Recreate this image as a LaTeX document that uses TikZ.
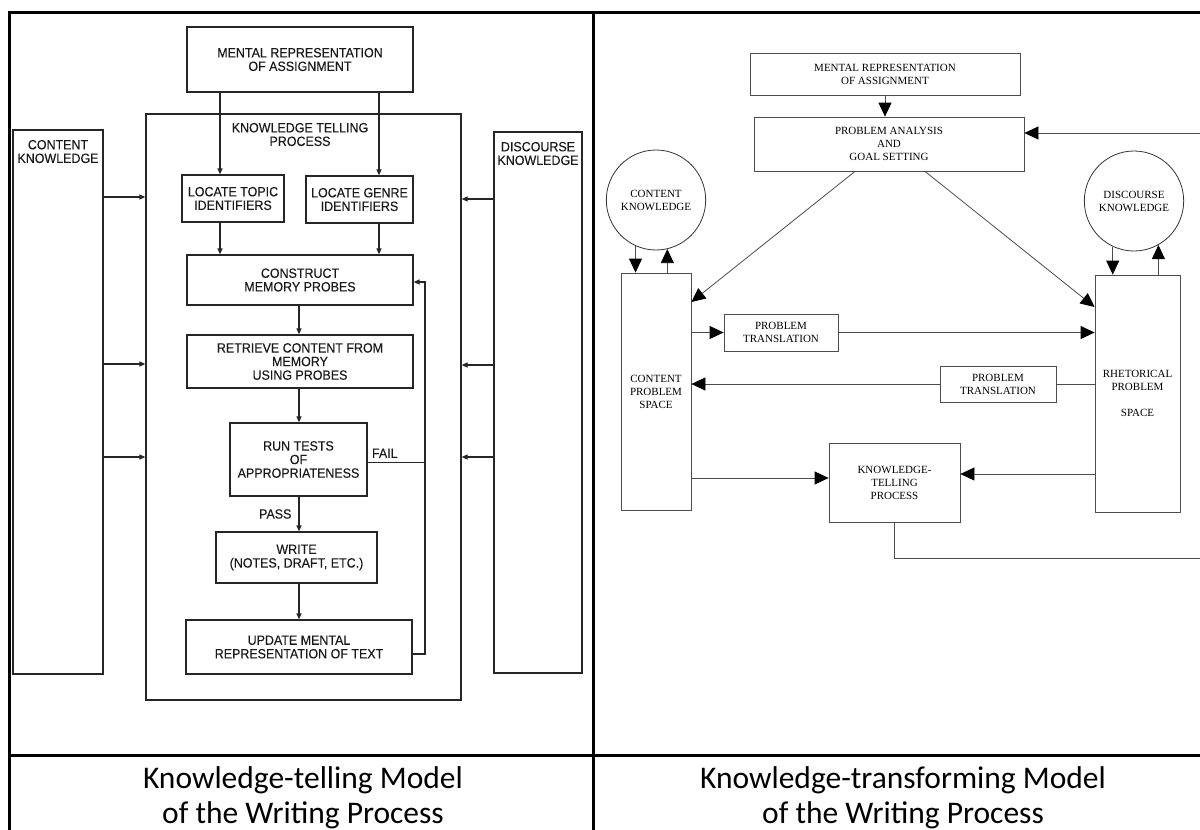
\documentclass[tikz,border=0pt]{standalone}
\usepackage{fontspec}
\setmainfont{Liberation Serif}
\newfontfamily\kfsans[FakeStretch=0.93,FakeBold=0.25]{Liberation Sans}
\newfontfamily\kfcap{Carlito}
\usetikzlibrary{arrows.meta,shapes.geometric}

\begin{document}
\begin{tikzpicture}[x=1pt,y=-1pt,
  rule/.style={line width=3pt,black},
  % knowledge-telling panel
  lfont/.style={font=\kfsans\fontsize{13.4}{13.6}\selectfont},
  lbox/.style={draw=black!85, line width=1.2pt, inner sep=0pt, align=center,
    lfont, text=black!90},
  ltext/.style={inner sep=0pt, align=center, lfont, text=black!90},
  larr/.style={draw=black!85, line width=1.2pt, -{Triangle[length=6pt,width=5pt]}},
  lline/.style={draw=black!85, line width=1.2pt},
  % knowledge-transforming panel
  rbox/.style={draw=black!70, line width=0.8pt, inner sep=0pt, align=center,
    font=\fontsize{11}{13}\selectfont},
  rcirc/.style={rbox, ellipse, draw=black!80},
  rarr/.style={draw=black!70, line width=0.8pt, -{Triangle[length=14pt,width=13pt,color=black]}},
  rline/.style={draw=black!70, line width=0.8pt},
  caption/.style={anchor=base, inner sep=0pt, font=\kfcap\fontsize{31.5}{36}\selectfont},
  wh/.style 2 args={minimum width=#1pt, minimum height=#2pt}
]
\useasboundingbox (0,0) rectangle (1200,830);

% ---------- table frame ----------
\draw[rule] (9,832) -- (9,12) -- (1210,12);
\draw[rule] (593,12) -- (593,832);
\draw[rule] (9,755) -- (1210,755);

\node[caption] (capL1) at (303,788) {Knowledge-telling Model};
\node[caption] (capL2) at (303,823) {of the Writing Process};
\node[caption] (capR1) at (903,788) {Knowledge-transforming Model};
\node[caption] (capR2) at (903,823) {of the Writing Process};

% ---------- knowledge-telling model ----------
\node[lbox, wh={315}{586}] (lktp) at (303.5,407) {};
\node[ltext] (lktpt) at (300,134.5) {KNOWLEDGE TELLING\\PROCESS};
\node[lbox, wh={90}{544}] (lck) at (58,402) {};
\node[ltext] (lckt) at (58,151.5) {CONTENT\\KNOWLEDGE};
\node[lbox, wh={88}{541}] (ldk) at (538,402.5) {};
\node[ltext] (ldkt) at (538,153.5) {DISCOURSE\\KNOWLEDGE};

\node[lbox, fill=white, wh={226}{65}] (lm) at (300,59.5) {MENTAL REPRESENTATION\\OF ASSIGNMENT};
\node[lbox, wh={102}{47}] (llt) at (233,198.5) {LOCATE TOPIC\\IDENTIFIERS};
\node[lbox, wh={107}{47}] (llg) at (359.5,199.5) {LOCATE GENRE\\IDENTIFIERS};
\node[lbox, wh={226}{50}] (lcm) at (300,280) {CONSTRUCT\\MEMORY PROBES};
\node[lbox, wh={226}{53}] (lrc) at (300,361.5) {RETRIEVE CONTENT FROM\\MEMORY\\USING PROBES};
\node[lbox, wh={137}{73}] (lrt) at (298.5,459.5) {RUN TESTS\\OF\\APPROPRIATENESS};
\node[lbox, wh={161}{51}] (lwr) at (296.5,557.5) {WRITE\\(NOTES, DRAFT, ETC.)};
\node[lbox, wh={226}{54}] (lup) at (299,647) {UPDATE MENTAL\\REPRESENTATION OF TEXT};

\coordinate (la) at (220,0);
\coordinate (lb) at (379,0);
\coordinate (lc) at (299,0);
\coordinate (lfx) at (425,0);
\coordinate (lfy) at (0,282);

\draw[larr] (lm.south -| la) -- (llt.north -| la);
\draw[larr] (lm.south -| lb) -- (llg.north -| lb);
\draw[larr] (llt.south -| la) -- (lcm.north -| la);
\draw[larr] (llg.south -| lb) -- (lcm.north -| lb);
\draw[larr] (lcm.south -| lc) -- (lrc.north -| lc);
\draw[larr] (lrc.south -| lc) -- (lrt.north -| lc);
\draw[larr] (lrt.south -| lc) -- node[ltext, left=7pt] (lpass) {PASS} (lwr.north -| lc);
\draw[larr] (lwr.south -| lc) -- (lup.north -| lc);
\draw[lline] ([yshift=-3pt]lrt.east) -- node[ltext, above=4pt, pos=0.3] (lfail) {FAIL} ([yshift=-3pt]lrt.east -| lfx);
\draw[larr] ([yshift=-7pt]lup.east) -- ([yshift=-7pt]lup.east -| lfx) -- (lfx |- lfy) -- (lcm.east |- lfy);

\foreach \yy in {197,364,457}{
  \coordinate (ky) at (0,\yy);
  \draw[larr] (lck.east |- ky) -- (lktp.west |- ky);
}
\foreach \yy in {199,365,457}{
  \coordinate (ky) at (0,\yy);
  \draw[larr] (ldk.west |- ky) -- (lktp.east |- ky);
}

% ---------- knowledge-transforming model ----------
\node[rbox, wh={270}{42}] (rm) at (885,74) {MENTAL REPRESENTATION\\OF ASSIGNMENT};
\node[rbox, wh={270}{54}] (rpa) at (889,144) {PROBLEM ANALYSIS\\AND\\GOAL SETTING};
\node[rcirc, wh={92}{100}] (rck) at (656,200) {CONTENT\\KNOWLEDGE};
\node[rcirc, wh={92}{100}] (rdk) at (1134,201) {DISCOURSE\\KNOWLEDGE};
\node[rbox, wh={70}{237}] (rcps) at (656,391.5) {CONTENT\\PROBLEM\\SPACE};
\node[rbox, wh={85}{237}] (rrps) at (1137.5,393.5) {RHETORICAL\\PROBLEM\\[12.5pt]SPACE};
\node[rbox, wh={114}{37}] (rpt1) at (781,332.5) {PROBLEM\\TRANSLATION};
\node[rbox, wh={116}{36}] (rpt2) at (998,384) {PROBLEM\\TRANSLATION};
\node[rbox, wh={131}{79}] (rktp) at (894.5,482.5) {KNOWLEDGE-\\TELLING\\PROCESS};

\coordinate (r1) at (855,302);
\coordinate (r2) at (925,307);
\coordinate (rlx) at (1206,0);
\coordinate (rly) at (0,558);
\coordinate (rpy) at (0,133);
\coordinate (rky1) at (0,478);
\coordinate (rky2) at (0,474);

\draw[rarr] (rm.south) -- (rm.south |- rpa.north);
\draw[rarr] (rpa.south -| r1) -- (rcps.east |- r1);
\draw[rarr] (rpa.south -| r2) -- (rrps.west |- r2);

\draw[rarr] (rck.246) -- (rck.246 |- rcps.north);
\draw[rarr] (rcps.north -| rck.283) -- (rck.283);
\draw[rarr] (rdk.245) -- (rdk.245 |- rrps.north);
\draw[rarr] (rrps.north -| rdk.299) -- (rdk.299);

\draw[rarr] (rcps.east |- rpt1.center) -- (rpt1.west);
\draw[rarr] (rpt1.east) -- (rpt1.east -| rrps.west);
\draw[rline] (rrps.west |- rpt2.center) -- (rpt2.east);
\draw[rarr] (rpt2.west) -- (rpt2.west -| rcps.east);
\draw[rarr] (rcps.east |- rky1) -- (rktp.west |- rky1);
\draw[rarr] (rrps.west |- rky2) -- (rktp.east |- rky2);

\draw[rarr] (rktp.south) -- (rktp.south |- rly) -- (rlx |- rly) -- (rlx |- rpy) -- (rpa.east |- rpy);
\end{tikzpicture}
\end{document}
